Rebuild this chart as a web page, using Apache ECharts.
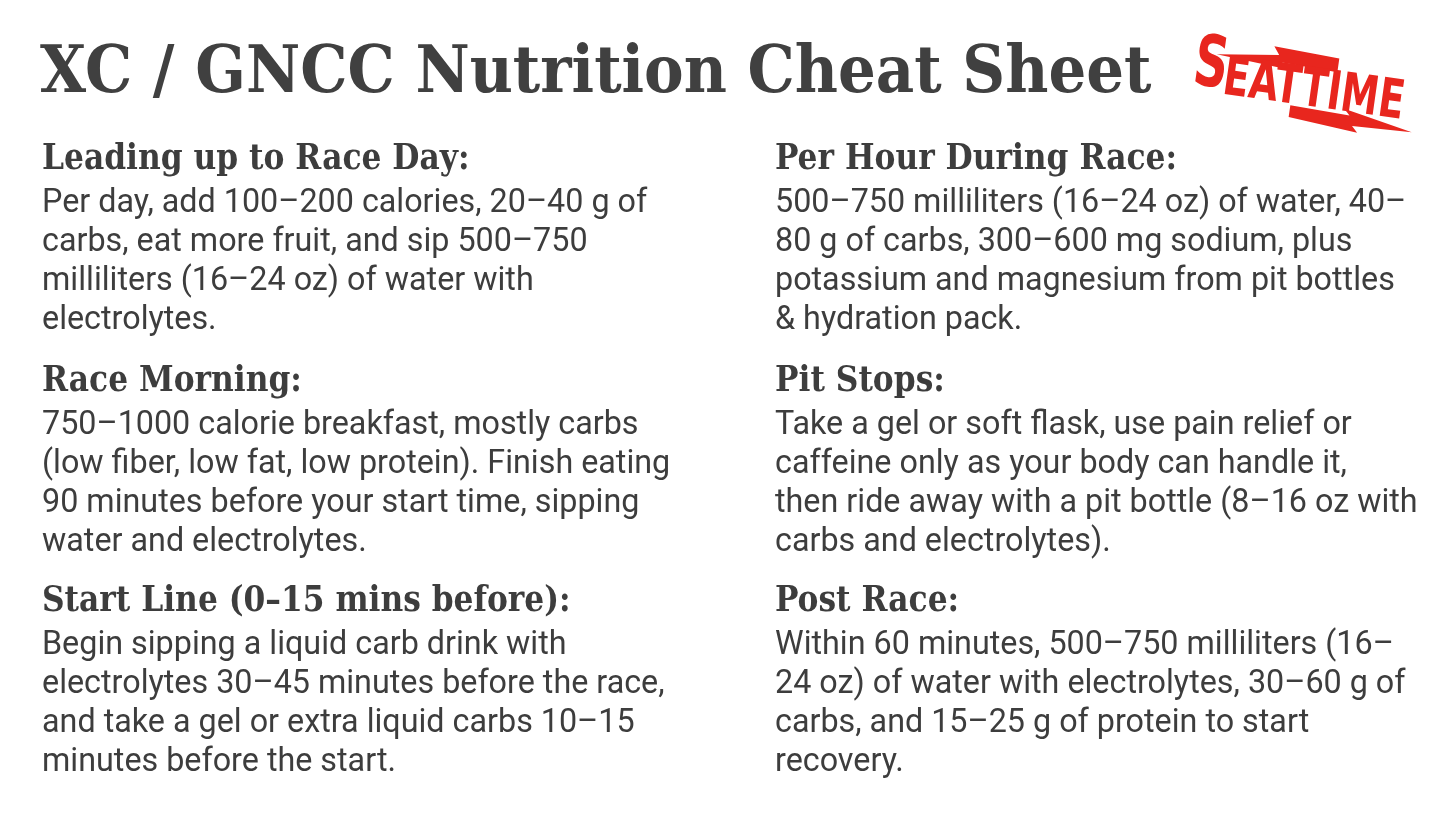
<!DOCTYPE html>
<html>
<head>
<meta charset="utf-8">
<script src="https://cdn.jsdelivr.net/npm/echarts@6/dist/echarts.min.js"></script>
<style>
html,body{margin:0;padding:0;background:#fff;}
#chart{width:1456px;height:819px;}
</style>
</head>
<body>
<div id="chart"></div>
<script>
const pageTitle = "XC / GNCC Nutrition Cheat Sheet";
const logoFirst = "S";
const logoRest = "EATTIME";
const leftHeadings = ["Leading up to Race Day:", "Race Morning:", "Start Line (0–15 mins before):"];
const rightHeadings = ["Per Hour During Race:", "Pit Stops:", "Post Race:"];
const leftBodies = [
  ["Per day, add 100–200 calories, 20–40 g of", "carbs, eat more fruit, and sip 500–750", "milliliters (16–24 oz) of water with", "electrolytes."],
  ["750–1000 calorie breakfast, mostly carbs", "(low fiber, low fat, low protein). Finish eating", "90 minutes before your start time, sipping", "water and electrolytes."],
  ["Begin sipping a liquid carb drink with", "electrolytes 30–45 minutes before the race,", "and take a gel or extra liquid carbs 10–15", "minutes before the start."]
];
const rightBodies = [
  ["500–750 milliliters (16–24 oz) of water, 40–", "80 g of carbs, 300–600 mg sodium, plus", "potassium and magnesium from pit bottles", "& hydration pack."],
  ["Take a gel or soft flask, use pain relief or", "caffeine only as your body can handle it,", "then ride away with a pit bottle (8–16 oz with", "carbs and electrolytes)."],
  ["Within 60 minutes, 500–750 milliliters (16–", "24 oz) of water with electrolytes, 30–60 g of", "carbs, and 15–25 g of protein to start", "recovery."]
];

const chart = echarts.init(document.getElementById('chart'));
const textColor = '#3d3d3d';
const serif = '"DejaVu Serif Condensed", "DejaVu Serif", serif';
const sans = 'Roboto, sans-serif';
const headingY = [160, 382, 602];
const colX = [42, 775];
const lineH = 39;
const els = [];

els.push({type:'text', x:40, y:75, style:{text:pageTitle, font:'bold 66px ' + serif, fill:'#404040', textVerticalAlign:'middle'}});

function addColumn(x, headings, bodies){
  headings.forEach((h,i)=>{
    els.push({type:'text', x:x, y:headingY[i], style:{text:h, font:'bold 34.8px ' + serif, fill:textColor, textVerticalAlign:'middle'}});
    bodies[i].forEach((ln,j)=>{
      els.push({type:'text', x:x, y:headingY[i]+44+j*lineH, style:{text:ln, font:'32.3px ' + sans, fill:textColor, textVerticalAlign:'middle'}});
    });
  });
}
addColumn(colX[0], leftHeadings, leftBodies);
addColumn(colX[1], rightHeadings, rightBodies);

// logo
const red = '#e8261e';
const logoFont = '"DejaVu Sans Condensed", "DejaVu Sans", sans-serif';
els.push({type:'group', x:1305, y:87, rotation:-0.14, children:[
  {type:'polygon', shape:{points:[[-92,-20],[-30,-28],[-36,-36],[30,-33],[30,-19],[-26,-21],[-20,-15]]}, style:{fill:red}},
  {type:'text', x:-113, y:-6, scaleX:0.74, style:{text:logoFirst, font:'bold 71px ' + logoFont, fill:red, textAlign:'left', textVerticalAlign:'middle'}},
  {type:'text', x:-82, y:4, scaleX:0.78, style:{text:logoRest, font:'bold 54px ' + logoFont, fill:red, textAlign:'left', textVerticalAlign:'middle'}},
  {type:'polygon', shape:{points:[[-12,20],[48,22],[42,16],[112,30],[52,32],[58,38],[-12,32]]}, style:{fill:red}}
]});

chart.setOption({backgroundColor:'#fff', graphic:{elements:els}});
</script>
</body>
</html>
